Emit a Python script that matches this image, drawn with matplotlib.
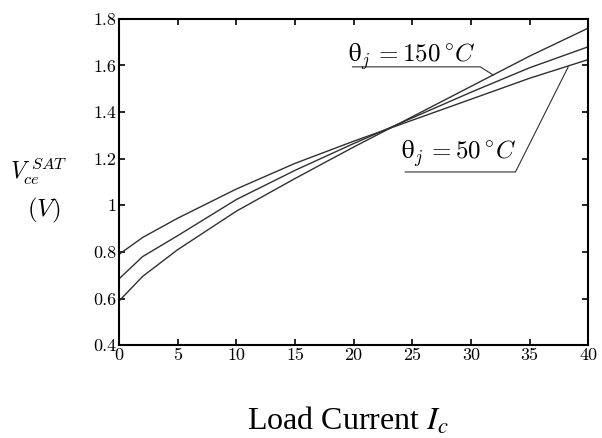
import numpy as np
import matplotlib
matplotlib.use('Agg')
import matplotlib.pyplot as plt

plt.rcParams['mathtext.fontset'] = 'cm'

# load current (A) and Vce sat (V) for the three junction temperatures
current = [0, 2, 5, 10, 15, 20, 25, 30, 35, 40]
vce_50 = [0.79, 0.862, 0.945, 1.07, 1.18, 1.275, 1.365, 1.455, 1.545, 1.625]
vce_100 = [0.685, 0.78, 0.87, 1.025, 1.15, 1.265, 1.375, 1.485, 1.59, 1.68]
vce_150 = [0.59, 0.695, 0.81, 0.975, 1.115, 1.25, 1.38, 1.51, 1.64, 1.76]

xticks = [0, 5, 10, 15, 20, 25, 30, 35, 40]
yticks = [0.4, 0.6, 0.8, 1.0, 1.2, 1.4, 1.6, 1.8]
ytick_labels = ['0.4', '0.6', '0.8', '1', '1.2', '1.4', '1.6', '1.8']

fig = plt.figure(figsize=(6.02, 4.38), dpi=100)
ax = fig.add_axes([0.198, 0.212, 0.779, 0.745])

for v in (vce_50, vce_100, vce_150):
    ax.plot(current, v, color='#303030', lw=1.0)

ax.set_xlim(0, 40)
ax.set_ylim(0.4, 1.8)
ax.set_xticks(xticks)
ax.set_xticklabels([str(t) for t in xticks], fontfamily='cmr10', fontsize=13)
ax.set_yticks(yticks)
ax.set_yticklabels(ytick_labels, fontfamily='cmr10', fontsize=13)
ax.tick_params(direction='in', length=4, width=1.2, top=True, right=True, pad=2)
for s in ax.spines.values():
    s.set_linewidth(1.5)

# labels with leader lines
ax.text(19.5, 1.618, 'θ$_{j}\\,=150\\,^{\\circ}C$', fontsize=18,
        family='STIXGeneral', math_fontfamily='cm')
ax.plot([19.9, 30.8, 31.9], [1.594, 1.594, 1.559], color='#303030', lw=0.8)
ax.text(24.0, 1.20, 'θ$_{j}\\,=50\\,^{\\circ}C$', fontsize=18,
        family='STIXGeneral', math_fontfamily='cm')
ax.plot([24.4, 33.8, 38.3], [1.143, 1.143, 1.594], color='#303030', lw=0.8)

fig.text(0.065, 0.61, r'$V_{ce}^{\ SAT}$', fontsize=17, ha='center', va='center')
fig.text(0.072, 0.52, r'$(V)$', fontsize=18, ha='center', va='center')

fig.text(0.577, 0.018, 'Load Current $I_c$', fontsize=23,
         family='Liberation Serif', math_fontfamily='stix',
         ha='center', va='baseline')

fig.savefig('out.png', dpi=100)
